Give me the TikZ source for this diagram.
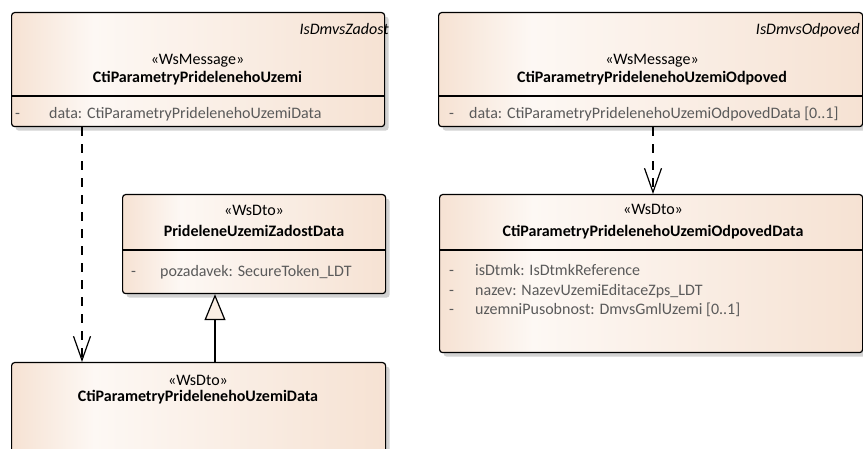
\documentclass[tikz,border=0pt]{standalone}
\usepackage{fontspec}
\setmainfont{Carlito}
\usetikzlibrary{arrows.meta,shadows}
\definecolor{boxpeach}{RGB}{246,226,211}
\definecolor{boxlight}{RGB}{253,248,244}
\definecolor{attrgray}{RGB}{90,90,90}
\definecolor{shadowgray}{RGB}{210,210,210}
\definecolor{trifill}{RGB}{250,238,228}
\pgfdeclarehorizontalshading{classfill}{100bp}{color(0bp)=(boxpeach); color(25bp)=(boxpeach); color(36bp)=(boxlight); color(75bp)=(boxpeach); color(100bp)=(boxpeach)}

\begin{document}
\begin{tikzpicture}[x=1pt,y=-1pt,
	classbox/.style={draw=black, line width=1.2pt, rounded corners=3pt, shading=classfill,
	anchor=north west, inner sep=0pt,
	drop shadow={shadow xshift=4pt, shadow yshift=-4pt, fill=shadowgray, opacity=1}},
	stereo/.style={anchor=base, inner sep=0pt, font=\fontsize{16}{19}\selectfont},
	cname/.style={anchor=base, inner sep=0pt, font=\fontsize{16}{19}\selectfont\bfseries},
	owner/.style={anchor=base east, inner sep=0pt, font=\fontsize{16}{19}\selectfont\itshape},
	attr/.style={anchor=base west, inner sep=0pt, text=attrgray, font=\fontsize{16}{19}\selectfont},
	dep/.style={line width=1.2pt, dash pattern=on 9pt off 8pt, -{Straight Barb[length=24pt,width=17pt]}},
	gen/.style={line width=1.2pt, -{Triangle[length=26pt,width=21pt,fill=trifill]}}]
\useasboundingbox (0,0) rectangle (863,449);

% boxes
\node[classbox, minimum width=373pt, minimum height=114pt] (msgreq) at (11,12) {};
\node[classbox, minimum width=424pt, minimum height=114pt] (msgresp) at (438,12) {};
\node[classbox, minimum width=263pt, minimum height=99pt] (zadost) at (122,194) {};
\node[classbox, minimum width=423pt, minimum height=158pt] (respdata) at (439,194) {};
\node[classbox, minimum width=374pt, minimum height=120pt] (reqdata) at (11,362) {};

% compartments
\draw[line width=1.2pt] ([yshift=-84pt]msgreq.north west) -- ([yshift=-84pt]msgreq.north east);
\draw[line width=1.2pt] ([yshift=-84pt]msgresp.north west) -- ([yshift=-84pt]msgresp.north east);
\draw[line width=1.2pt] ([yshift=-56pt]zadost.north west) -- ([yshift=-56pt]zadost.north east);
\draw[line width=1.2pt] ([yshift=-56pt]respdata.north west) -- ([yshift=-56pt]respdata.north east);

% CtiParametryPridelenehoUzemi
\node[owner] (msgreqown) at (389,35) {IsDmvsZadost};
\node[stereo] (msgreqst) at (197.5,65) {«WsMessage»};
\node[cname] (msgreqnm) at (197.5,83) {CtiParametryPridelenehoUzemi};
\node[attr] (msgreqvis) at (15,119) {-};
\node[attr] (msgreqat) at (49,119) {data: CtiParametryPridelenehoUzemiData};

% CtiParametryPridelenehoUzemiOdpoved
\node[owner] (msgrespown) at (860,35) {IsDmvsOdpoved};
\node[stereo] (msgrespst) at (652,65) {«WsMessage»};
\node[cname] (msgrespnm) at (652,83) {CtiParametryPridelenehoUzemiOdpoved};
\node[attr] (msgrespvis) at (449,119) {-};
\node[attr] (msgrespat) at (469,119) {data: CtiParametryPridelenehoUzemiOdpovedData [0..1]};

% PrideleneUzemiZadostData
\node[stereo] (zadostst) at (254,216) {«WsDto»};
\node[cname] (zadostnm) at (254,237) {PrideleneUzemiZadostData};
\node[attr] (zadostvis) at (131,277) {-};
\node[attr] (zadostat) at (160,277) {pozadavek: SecureToken\_LDT};

% CtiParametryPridelenehoUzemiOdpovedData
\node[stereo] (respdatast) at (653,215) {«WsDto»};
\node[cname] (respdatanm) at (653,237) {CtiParametryPridelenehoUzemiOdpovedData};
\node[attr] (respdatavisa) at (449,276) {-};
\node[attr] (respdataata) at (475,276) {isDtmk: IsDtmkReference};
\node[attr] (respdatavisb) at (449,296) {-};
\node[attr] (respdataatb) at (475,296) {nazev: NazevUzemiEditaceZps\_LDT};
\node[attr] (respdatavisc) at (449,315) {-};
\node[attr] (respdataatc) at (475,315) {uzemniPusobnost: DmvsGmlUzemi [0..1]};

% CtiParametryPridelenehoUzemiData
\node[stereo] (reqdatast) at (198,385) {«WsDto»};
\node[cname] (reqdatanm) at (198,401) {CtiParametryPridelenehoUzemiData};

% connectors
\draw[dep] ([xshift=71pt]msgreq.south west) -- ([xshift=71pt]reqdata.north west);
\draw[dep] ([xshift=215pt]msgresp.south west) -- ([xshift=214pt]respdata.north west);
\draw[gen] ([xshift=204pt]reqdata.north west) -- ([xshift=93pt]zadost.south west);
\end{tikzpicture}
\end{document}
